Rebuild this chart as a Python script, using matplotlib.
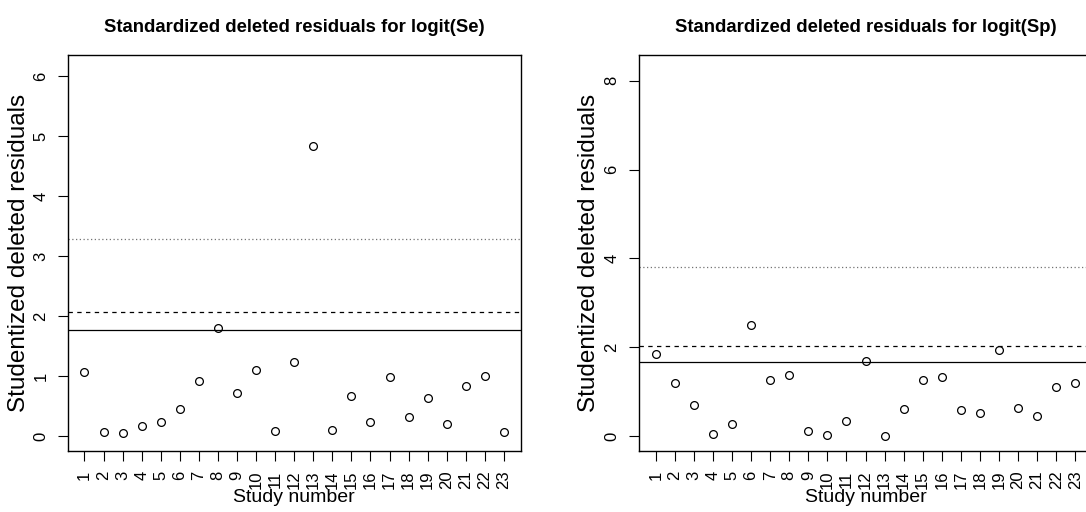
import matplotlib
matplotlib.use("Agg")
import matplotlib.pyplot as plt
import numpy as np

plt.rcParams['font.family'] = ['Liberation Sans', 'DejaVu Sans']

study = list(range(1, 24))

# logit(Se)
res_se = [1.065, 0.07, 0.05, 0.18, 0.245, 0.45, 0.915, 1.81, 0.715, 1.11, 0.095, 1.24,
          4.84, 0.11, 0.665, 0.24, 0.99, 0.32, 0.645, 0.205, 0.83, 1.005, 0.07]
# logit(Sp)
res_sp = [1.86, 1.21, 0.705, 0.06, 0.28, 2.50, 1.26, 1.37, 0.12, 0.03, 0.35, 1.70,
          0.015, 0.62, 1.27, 1.34, 0.60, 0.52, 1.94, 0.645, 0.465, 1.10, 1.21]

# reference lines: solid, dashed, dotted
lines_se = [1.77, 2.07, 3.28]
lines_sp = [1.68, 2.04, 3.80]

titles = ['Standardized deleted residuals for logit(Se)',
          'Standardized deleted residuals for logit(Sp)']
yticks = [list(range(0, 7)), [0, 2, 4, 6, 8]]
ytop = [6.1, 8.24]

W, H = 1086, 512
fig = plt.figure(figsize=(W / 100, H / 100), dpi=100)

# panel geometry in pixels (right panel runs past the image edge, as in the original)
lefts = [67.7, 639.0]
width = 453.0
bottom, top = 451.0, 55.3
ylab_x = [19.5, 589.0]

for i, (res, hl) in enumerate([(res_se, lines_se), (res_sp, lines_sp)]):
    ax = fig.add_axes([lefts[i] / W, (H - bottom) / H, width / W, (bottom - top) / H])
    ax.plot(study, res, 'o', mfc='none', mec='black', ms=5.6, mew=0.9)
    ax.axhline(hl[0], color='black', lw=0.9, ls='-')
    ax.axhline(hl[1], color='black', lw=0.9, ls=(0, (3.5, 3.5)))
    ax.axhline(hl[2], color='0.45', lw=0.9, ls=(0, (1, 2)))
    ext = 0.04 * ytop[i]
    ax.set_ylim(-ext, ytop[i] + ext)
    ax.set_xlim(1 - 0.04 * 22, 23 + 0.04 * 22)
    ax.set_xticks(study)
    ax.set_xticklabels([str(s) for s in study], rotation=90, fontsize=12)
    ax.set_yticks(yticks[i])
    ax.set_yticklabels([str(t) for t in yticks[i]], rotation=90, va='center', fontsize=12)
    ax.tick_params(length=7, width=0.8, pad=7)
    for sp in ax.spines.values():
        sp.set_linewidth(1.0)
    ax.set_xlabel('Study number', fontsize=14)
    ax.xaxis.label.set_va('center')
    ax.xaxis.set_label_coords(0.5, (bottom - 498) / (bottom - top))
    ax.set_ylabel('Studentized deleted residuals', fontsize=17.5)
    ax.yaxis.label.set_va('center')
    ax.yaxis.set_label_coords((ylab_x[i] - lefts[i]) / width, 0.5)
    ax.set_title(titles[i], fontsize=13.3, fontweight='bold', pad=17)

fig.savefig('out.png', dpi=100)
